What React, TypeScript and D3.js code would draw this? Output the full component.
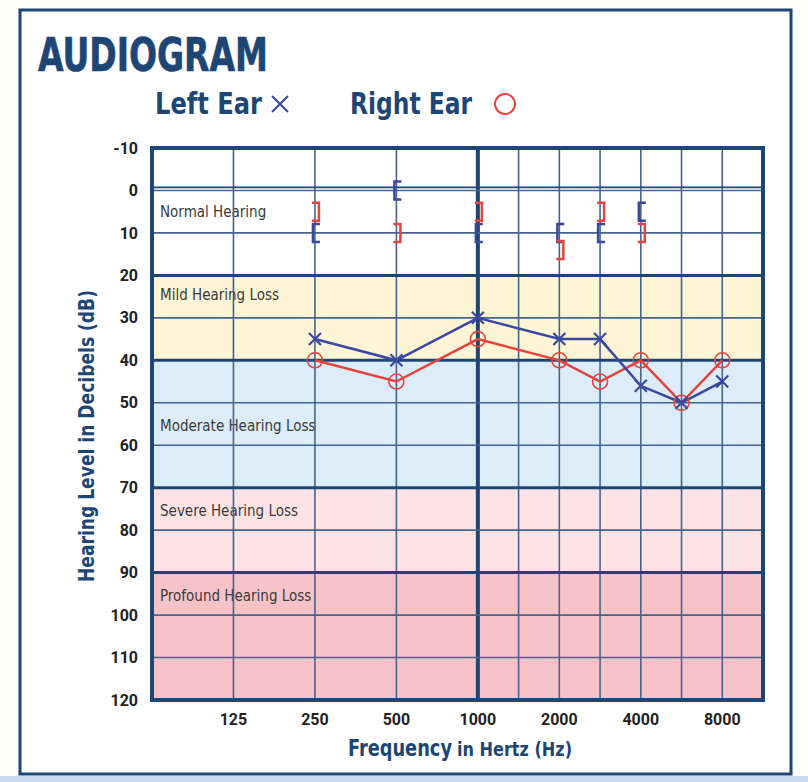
import * as d3 from 'd3'

// Frequencies that carry a data point (Hz)
const frequencies = [250, 500, 1000, 2000, 3000, 4000, 6000, 8000]
// Air conduction thresholds (dB HL)
const leftEar = [35, 40, 30, 35, 35, 46, 50, 45]
const rightEar = [40, 45, 35, 40, 45, 40, 50, 40]

// Bone conduction (masked) thresholds
const boneFrequencies = [250, 500, 1000, 2000, 3000, 4000]
const leftBone = [10, 0, 10, 10, 10, 5]
const rightBone = [5, 10, 5, 14, 5, 10]

// Axis ticks / grid
const xTickLabels = [125, 250, 500, 1000, 2000, 4000, 8000]
const xGrid = [125, 250, 500, 1000, 1500, 2000, 3000, 4000, 6000, 8000]
const yTicks = [-10, 0, 10, 20, 30, 40, 50, 60, 70, 80, 90, 100, 110, 120]
const bandEdges = [20, 40, 70, 90]

// Hearing loss bands
const bandNames = ['Normal Hearing', 'Mild Hearing Loss', 'Moderate Hearing Loss', 'Severe Hearing Loss', 'Profound Hearing Loss']
const bandFrom = [-10, 20, 40, 70, 90]
const bandTo = [20, 40, 70, 90, 120]
const bandLabelAt = [5, 24.5, 55.5, 75.5, 95.5]
const bandColors = ['#ffffff', '#fdf5d6', '#dcedf9', '#fde3e6', '#f8c3c8']

const NAVY = '#1d4675'
const GRID = '#46648a'
const BLUE = '#3b48a0'
const RED = '#e5433d'
const NARROW = '"Liberation Sans Narrow", "DejaVu Sans Condensed", "Roboto Condensed", Roboto, sans-serif'
const TICK_FONT = 'Roboto, "Liberation Sans", sans-serif'

// audiogram positions: octaves equally spaced, inter-octave freqs at midpoints
const octave = d3.scaleLinear()
  .domain([62.5, 125, 250, 500, 1000, 1500, 2000, 3000, 4000, 6000, 8000, 12000])
  .range([-1, 0, 1, 2, 3, 3.5, 4, 4.5, 5, 5.5, 6, 6.5])

export default function App() {
  const width = 808
  const height = 782
  const plot = { left: 152, right: 763, top: 148, bottom: 700 }

  const xPos = d3.scaleLinear().domain([-1, 6.5]).range([plot.left, plot.right])
  const x = (f: number) => xPos(octave(f))
  const y = d3.scaleLinear().domain([-10, 120]).range([plot.top, plot.bottom])

  const line = d3.line<[number, number]>().x(d => x(d[0])).y(d => y(d[1]))
  const leftPts = frequencies.map((f, i) => [f, leftEar[i]] as [number, number])
  const rightPts = frequencies.map((f, i) => [f, rightEar[i]] as [number, number])

  const cross = (cx: number, cy: number, s: number) =>
    `M${cx - s},${cy - s}L${cx + s},${cy + s}M${cx - s},${cy + s}L${cx + s},${cy - s}`
  const openBracket = (cx: number, cy: number) =>
    `M${cx + 5},${cy - 9}H${cx - 2}V${cy + 9}H${cx + 5}`
  const closeBracket = (cx: number, cy: number) =>
    `M${cx - 3},${cy - 9}H${cx + 4}V${cy + 9}H${cx - 3}`

  return (
    <div style={{ position: 'absolute', left: 0, top: 0 }}>
      <svg width={width} height={height} viewBox={`0 0 ${width} ${height}`} style={{ display: 'block' }}>
        <rect x={0} y={0} width={width} height={height} fill="#fdfdfb" />
        <rect x={20} y={10} width={771} height={764} fill="#ffffff" stroke={NAVY} strokeWidth={3} />
        <rect x={0} y={776} width={width} height={6} fill="#c9dced" />

        {/* title + legend */}
        <text x={38} y={71} fontFamily={NARROW} fontWeight="bold" fontSize={47} fill={NAVY}
          stroke={NAVY} strokeWidth={0.6}
          textLength={230} lengthAdjust="spacingAndGlyphs">AUDIOGRAM</text>
        <text x={155} y={114} fontFamily={NARROW} fontWeight="bold" fontSize={30} fill={NAVY}
          textLength={107} lengthAdjust="spacingAndGlyphs">Left Ear</text>
        <path d={cross(280, 104, 8)} stroke={BLUE} strokeWidth={2.2} fill="none" />
        <text x={350} y={114} fontFamily={NARROW} fontWeight="bold" fontSize={30} fill={NAVY}
          textLength={122} lengthAdjust="spacingAndGlyphs">Right Ear</text>
        <circle cx={505} cy={104} r={10} stroke={RED} strokeWidth={2} fill="none" />

        {/* bands */}
        {bandNames.map((name, i) => (
          <g key={name}>
            <rect x={plot.left} y={y(bandFrom[i])} width={plot.right - plot.left}
              height={y(bandTo[i]) - y(bandFrom[i])} fill={bandColors[i]} />
            <text x={plot.left + 8} y={y(bandLabelAt[i])} dy="0.35em" fontFamily={NARROW}
              fontSize={15} fill="#3a3a3a">{name}</text>
          </g>
        ))}

        {/* grid */}
        {xGrid.map(f => (
          <line key={'vx' + f} x1={x(f)} x2={x(f)} y1={plot.top} y2={plot.bottom}
            stroke={f === 1000 ? NAVY : GRID} strokeWidth={f === 1000 ? 4 : 1.6} />
        ))}
        {yTicks.filter(v => v > -10 && v < 120).map(v => (
          <line key={'hy' + v} x1={plot.left} x2={plot.right} y1={y(v)} y2={y(v)}
            stroke={bandEdges.includes(v) ? NAVY : GRID}
            strokeWidth={bandEdges.includes(v) ? 3 : 1.6} />
        ))}
        <line x1={plot.left} x2={plot.right} y1={y(0) - 3} y2={y(0) - 3} stroke={NAVY} strokeWidth={1.8} />
        <rect x={plot.left} y={plot.top} width={plot.right - plot.left} height={plot.bottom - plot.top}
          fill="none" stroke={NAVY} strokeWidth={4} />

        {/* axis ticks */}
        {yTicks.map(v => (
          <text key={'yt' + v} x={138} y={y(v)} dy="0.35em" textAnchor="end" fontFamily={TICK_FONT}
            fontWeight="bold" fontSize={16} fill="#222">{v}</text>
        ))}
        {xTickLabels.map(f => (
          <text key={'xt' + f} x={x(f)} y={719} dy="0.35em" textAnchor="middle" fontFamily={TICK_FONT}
            fontWeight="bold" fontSize={16} fill="#222">{f}</text>
        ))}

        {/* axis titles */}
        <text transform={`translate(94, ${(plot.top + plot.bottom) / 2 + 12}) rotate(-90)`} textAnchor="middle"
          fontFamily={NARROW} fontWeight="bold" fontSize={22} fill={NAVY}
          textLength={292} lengthAdjust="spacingAndGlyphs">Hearing Level in Decibels (dB)</text>
        <text x={348} y={756} fontFamily={NARROW} fontWeight="bold" fontSize={23} fill={NAVY}
          textLength={104} lengthAdjust="spacingAndGlyphs">Frequency</text>
        <text x={457} y={756} fontFamily={NARROW} fontWeight="bold" fontSize={19} fill={NAVY}
          textLength={115} lengthAdjust="spacingAndGlyphs">in Hertz (Hz)</text>

        {/* bone conduction */}
        {boneFrequencies.map((f, i) => (
          <path key={'lb' + f} d={openBracket(x(f), y(leftBone[i]))} stroke={BLUE} strokeWidth={2.5} fill="none" />
        ))}
        {boneFrequencies.map((f, i) => (
          <path key={'rb' + f} d={closeBracket(x(f), y(rightBone[i]))} stroke={RED} strokeWidth={2.5} fill="none" />
        ))}

        {/* air conduction */}
        <path d={line(rightPts) ?? ''} stroke={RED} strokeWidth={2.5} fill="none" />
        <path d={line(leftPts) ?? ''} stroke={BLUE} strokeWidth={2.5} fill="none" />
        {rightPts.map(d => (
          <circle key={'ro' + d[0]} cx={x(d[0])} cy={y(d[1])} r={7.5} stroke={RED} strokeWidth={1.6} fill="none" />
        ))}
        {leftPts.map(d => (
          <path key={'lx' + d[0]} d={cross(x(d[0]), y(d[1]), 6)} stroke={BLUE} strokeWidth={2.2} fill="none" />
        ))}
      </svg>
    </div>
  )
}
